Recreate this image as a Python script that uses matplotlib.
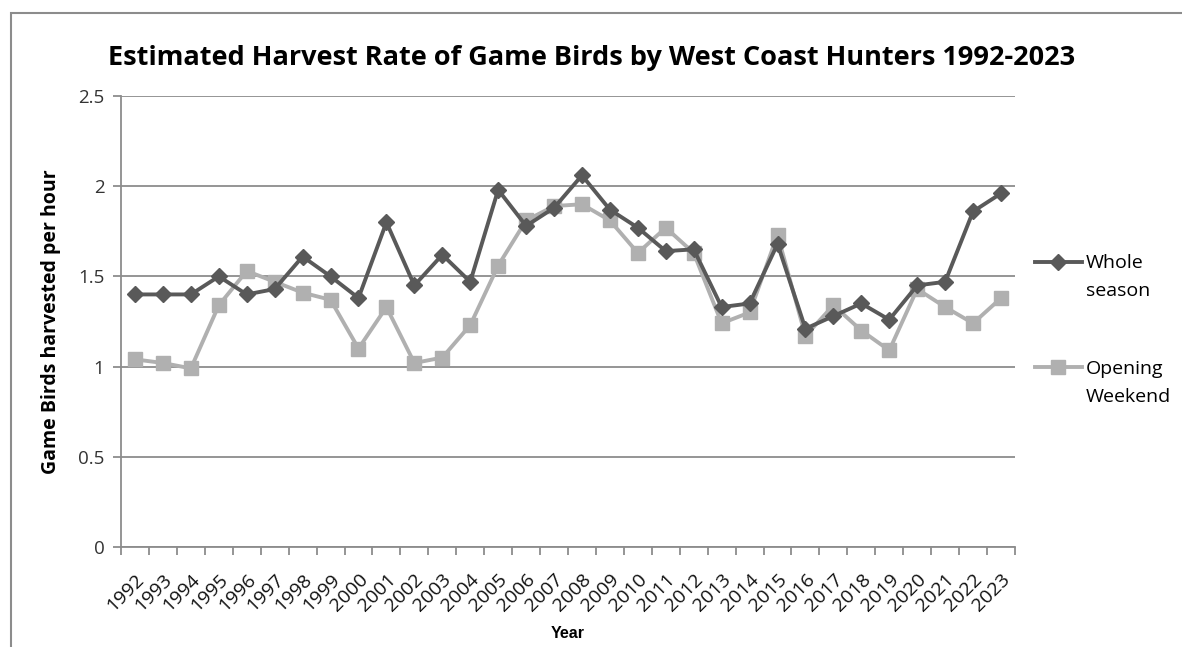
import matplotlib
matplotlib.use("Agg")
import matplotlib.pyplot as plt
import numpy as np
from matplotlib.patches import Rectangle

years = list(range(1992, 2024))
whole_season = [1.40, 1.40, 1.40, 1.50, 1.40, 1.43, 1.61, 1.50, 1.38, 1.80,
                1.45, 1.62, 1.47, 1.98, 1.78, 1.88, 2.06, 1.87, 1.77, 1.64,
                1.65, 1.33, 1.35, 1.68, 1.21, 1.28, 1.35, 1.26, 1.45, 1.47,
                1.86, 1.96]
opening_weekend = [1.04, 1.02, 0.99, 1.34, 1.53, 1.47, 1.41, 1.37, 1.10, 1.33,
                   1.02, 1.05, 1.23, 1.56, 1.81, 1.89, 1.90, 1.81, 1.63, 1.77,
                   1.63, 1.24, 1.30, 1.73, 1.17, 1.34, 1.20, 1.09, 1.43, 1.33,
                   1.24, 1.38]
series_names = [("Whole", "season"), ("Opening", "Weekend")]
y_ticks = [0, 0.5, 1, 1.5, 2, 2.5]

plt.rcParams["font.family"] = ["Open Sans", "DejaVu Sans"]

fig = plt.figure(figsize=(11.82, 6.47), dpi=100, facecolor="white")
ax = fig.add_axes([0.1024, 0.1546, 0.7563, 0.697])

# cadre du graphique (coupé à droite et en bas comme l'original)
fig.patches.append(Rectangle((11 / 1182, -0.1), 1.2, 1 - 13 / 647 + 0.1,
                             transform=fig.transFigure, fill=False,
                             edgecolor="#8c8c8c", linewidth=1.5))

x = np.arange(len(years))
ax.plot(x, whole_season, color="#595959", linewidth=2.8, marker="D",
        markersize=8.5, label=series_names[0][0], zorder=3)
ax.plot(x, opening_weekend, color="#b0b0b0", linewidth=2.8, marker="s",
        markersize=10.5, label=series_names[1][0], zorder=2)

ax.set_xlim(-0.5, len(years) - 0.5)
ax.set_ylim(0, 2.5)
ax.set_yticks(y_ticks)
ax.set_yticklabels([f"{t:g}" for t in y_ticks], fontsize=13.5, color="#333333")
ax.yaxis.grid(True, color="#8c8c8c", linewidth=1.3)
ax.set_axisbelow(True)

ax.set_xticks(x)
ax.set_xticklabels([str(y) for y in years], rotation=45, ha="right",
                   rotation_mode="anchor", fontsize=14, color="#111111")
ax.set_xticks(np.arange(-0.5, len(years)), minor=True)
ax.tick_params(axis="x", which="major", length=0, pad=17)
ax.tick_params(axis="x", which="minor", length=6, color="#8c8c8c", width=1.3)
ax.tick_params(axis="y", length=6, color="#8c8c8c", width=1.3, pad=6)

for side in ("top", "right"):
    ax.spines[side].set_visible(False)
for side in ("left", "bottom"):
    ax.spines[side].set_color("#8c8c8c")
    ax.spines[side].set_linewidth(1.3)

ax.set_title("Estimated Harvest Rate of Game Birds by West Coast Hunters 1992-2023",
             fontsize=19.5, fontweight="bold", pad=22, x=0.526)
ax.set_ylabel("Game Birds harvested per hour", fontsize=14, fontweight="bold",
              labelpad=12)
ax.set_xlabel("Year", fontsize=11.5, fontweight="bold", family="Liberation Sans",
              labelpad=8)

# légende : marqueur aligné sur la première ligne, deuxième ligne ajoutée dessous
leg = ax.legend(loc="center left", bbox_to_anchor=(1.003, 0.512), frameon=False,
                fontsize=14, labelspacing=4.5, handlelength=2.4, handletextpad=0.2)
fig.canvas.draw()
inv = fig.transFigure.inverted()
for txt, (_, second) in zip(leg.get_texts(), series_names):
    bb = txt.get_window_extent()
    x0, y0 = inv.transform((bb.x0, bb.y0 - 28))
    fig.text(x0, y0, second, fontsize=14, color=txt.get_color(), va="bottom")

fig.savefig("out.png", dpi=100, facecolor="white")
